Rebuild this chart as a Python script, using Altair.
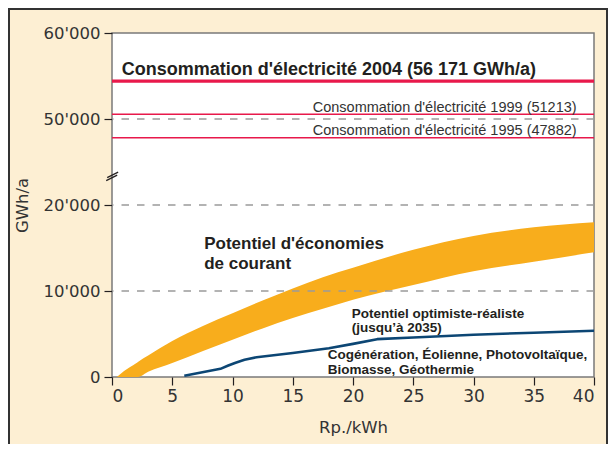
import altair as alt
import pandas as pd

# ---- axis break: values above BREAK_AT are drawn BREAK_GAP lower ----
BREAK_AT = 25000
BREAK_GAP = 20000


def ax(v):
    return v if v <= BREAK_AT else v - BREAK_GAP


# ---- data ----
x_ticks = [0, 5, 10, 15, 20, 25, 30, 35, 40]
y_tick_values = [0, 10000, 20000, 50000, 60000]
y_tick_labels = ["0", "10'000", "20'000", "50'000", "60'000"]
grid_values = [10000, 20000, 50000]

band_x = [0.4, 1, 2, 2.15, 3, 5, 7.5, 10, 12.5, 15, 17.5, 20, 25, 30, 35, 40]
band_hi = [0, 700, 1600, 1750, 2500, 4200, 5900, 7400, 8900, 10300, 11600, 12700, 14800, 16400, 17400, 18000]
band_lo = [0, 0, 0, 0, 600, 1630, 3000, 4340, 5650, 6860, 7950, 8990, 10700, 12300, 13400, 14500]

line_x = [6, 9, 9.6, 10.2, 11, 12, 15, 18, 20, 22, 25, 30, 35, 40]
line_y = [150, 950, 1300, 1630, 2000, 2300, 2800, 3350, 3850, 4400, 4600, 4920, 5150, 5380]

cons_years = ["2004", "1999", "1995"]
cons_drawn = [54400, 50550, 47830]

big_title = "Consommation d'électricité 2004 (56 171 GWh/a)"
small_titles = ["Consommation d'électricité 1999 (51213)", "Consommation d'électricité 1995 (47882)"]

econ_lines = ["Potentiel d'économies", "de courant"]
opt_lines = ["Potentiel optimiste-réaliste", "(jusqu’à 2035)"]
tech_lines = ["Cogénération, Éolienne, Photovoltaïque,", "Biomasse, Géothermie"]

# ---- colours / fonts ----
ORANGE = "#f8ad1c"
NAVY = "#0c4674"
RED = "#e8194b"
TXT = "#231f20"
CREAM = "#fdefd3"
AXFONT = "DejaVu Sans"
TFONT = "Liberation Sans"

W, H = 482, 344

xs = alt.Scale(domain=[0, 40], nice=False, zero=False)
ys = alt.Scale(domain=[0, ax(60000)], nice=False, zero=False)

label_expr = " : ".join(
    f'datum.value == {ax(v)} ? "{l}"' for v, l in zip(y_tick_values, y_tick_labels)
) + ' : ""'

band_df = pd.DataFrame({"x": band_x, "hi": [ax(v) for v in band_hi], "lo": [ax(v) for v in band_lo]})
line_df = pd.DataFrame({"x": line_x, "y": [ax(v) for v in line_y]})
grid_df = pd.DataFrame({"y": [ax(v) for v in grid_values]})
cons_df = pd.DataFrame({"year": cons_years, "y": [ax(v) for v in cons_drawn]})

band = alt.Chart(band_df).mark_area(color=ORANGE, opacity=1, interpolate="monotone").encode(
    x=alt.X("x:Q", scale=xs, axis=alt.Axis(
        values=x_ticks, format="d", title="Rp./kWh", grid=False, domain=False,
        tickSize=8, tickColor=TXT, tickWidth=1.2,
        labelFont=AXFONT, labelFontSize=17, labelColor="#333", labelPadding=3,
        titleFont=AXFONT, titleFontSize=16.5, titleFontWeight="normal", titleColor="#333",
        titleY=55, titleBaseline="alphabetic")),
    y=alt.Y("hi:Q", scale=ys, axis=alt.Axis(
        values=[ax(v) for v in y_tick_values], labelExpr=label_expr, title="GWh/a",
        grid=False, domain=False, tickSize=8, tickColor=TXT, tickWidth=1.2,
        labelFont=AXFONT, labelFontSize=16.5, labelColor="#333", labelPadding=4,
        titleFont=AXFONT, titleFontSize=16.5, titleFontWeight="normal", titleColor="#333",
        titleX=-85, titleY=H / 2, titleBaseline="alphabetic", titleAngle=270)),
    y2="lo:Q",
)

grid = alt.Chart(grid_df).mark_rule(color="#9a9a9a", strokeWidth=1.5, strokeDash=[7.5, 8]).encode(
    y=alt.Y("y:Q", scale=ys)
)

cons = alt.Chart(cons_df).mark_rule(color=RED).encode(
    y=alt.Y("y:Q", scale=ys),
    strokeWidth=alt.condition(alt.datum.year == "2004", alt.value(3.2), alt.value(1.5)),
)

line = alt.Chart(line_df).mark_line(color=NAVY, strokeWidth=2.6, strokeJoin="round").encode(
    x=alt.X("x:Q", scale=xs), y=alt.Y("y:Q", scale=ys)
)


def texts(lines, xv, yvals, size, weight, align="left", color=TXT):
    df = pd.DataFrame({"t": lines, "x": [xv] * len(lines), "y": [ax(v) for v in yvals]})
    return alt.Chart(df).mark_text(
        align=align, baseline="alphabetic", font=TFONT, fontSize=size,
        fontWeight=weight, color=color
    ).encode(x=alt.X("x:Q", scale=xs), y=alt.Y("y:Q", scale=ys), text="t:N")


t_big = texts([big_title], 0.8, [55160], 18, "bold")
t_small = texts(small_titles, 38.56, [50855, 48180], 14.5, "normal", align="right", color="#333")
t_econ = texts(econ_lines, 7.65, [14880, 12590], 17, "bold")
t_opt = texts(opt_lines, 19.9, [6860, 5190], 13.5, "bold")
t_tech = texts(tech_lines, 17.9, [2130, 380], 13.5, "bold")

# axis-break marks (decoration on the y axis)
brk_df = pd.DataFrame({"x": [-0.48, -0.4], "x2": [0.43, 0.51],
                       "y": [22830, 23180], "y2": [23470, 23820]})
brk = alt.Chart(brk_df).mark_rule(color=TXT, strokeWidth=1.3).encode(
    x=alt.X("x:Q", scale=xs), x2="x2:Q", y=alt.Y("y:Q", scale=ys), y2="y2:Q"
)

# outer frame of the figure
frame = alt.Chart(pd.DataFrame({"a": [0]})).mark_rect(
    filled=False, stroke="#333", strokeWidth=2
).encode(x=alt.value(-103), x2=alt.value(W + 13), y=alt.value(-24), y2=alt.value(H + 90))

chart = alt.layer(
    band, grid, cons, line, t_big, t_small, t_econ, t_opt, t_tech, brk, frame
).properties(
    width=W, height=H,
    autosize=alt.AutoSizeParams(type="none"),
    padding={"left": 104, "top": 25, "right": 14, "bottom": 67},
).configure(
    background=CREAM,
).configure_view(
    fill="white", stroke="#7a7a7a", strokeWidth=1.5
)

chart.save("out.html", embed_options={"renderer": "svg", "actions": False})
